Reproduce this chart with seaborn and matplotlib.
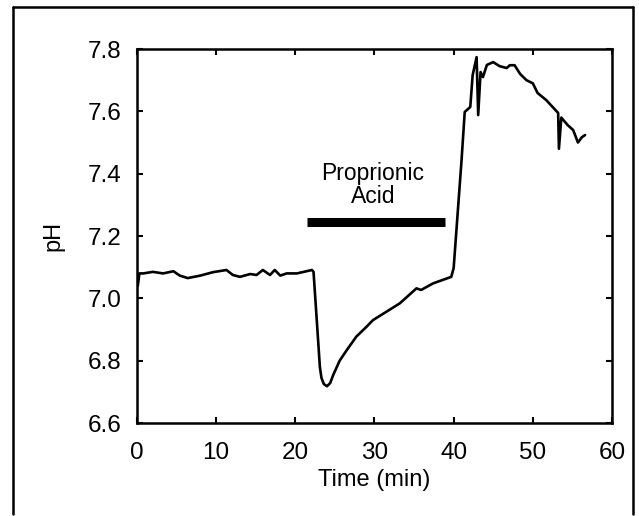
import matplotlib
matplotlib.use("Agg")
import matplotlib.pyplot as plt
import numpy as np
import pandas as pd
import seaborn as sns
from matplotlib.lines import Line2D

sns.set_theme(style="ticks")
plt.rcParams["font.family"] = ["Liberation Sans", "DejaVu Sans"]
plt.rcParams["text.color"] = "black"
plt.rcParams["axes.labelcolor"] = "black"

# pH trace
time_min = [
    0.0, 0.1, 0.3, 0.8, 2.0, 3.3, 4.6, 5.4, 6.4, 8.0, 9.6, 11.3, 12.1, 13.0,
    14.3, 15.1, 15.9, 16.8, 17.4, 18.1, 18.9, 20.2, 22.1, 22.3, 22.9, 23.1,
    23.3, 23.6, 24.0, 24.4, 24.8, 25.6, 26.5, 27.7, 29.0, 29.8, 31.5, 33.2,
    35.3, 35.9, 37.4, 39.7, 40.0, 41.0, 41.4, 42.1, 42.4, 42.9, 43.1, 43.4,
    43.7, 44.2, 45.0, 45.8, 46.7, 47.1, 47.7, 48.4, 49.2, 50.0, 50.6, 51.7,
    52.5, 53.2, 53.3, 53.6, 54.4, 55.1, 55.7, 56.2, 56.6,
]
ph = [
    7.06, 7.04, 7.08, 7.08, 7.085, 7.08, 7.087, 7.073, 7.065, 7.073, 7.084,
    7.091, 7.075, 7.069, 7.078, 7.075, 7.091, 7.075, 7.091, 7.073, 7.08, 7.08,
    7.091, 7.085, 6.857, 6.78, 6.745, 6.725, 6.718, 6.728, 6.755, 6.80, 6.834,
    6.877, 6.909, 6.93, 6.957, 6.984, 7.032, 7.027, 7.048, 7.069, 7.097,
    7.444, 7.598, 7.614, 7.716, 7.774, 7.588, 7.726, 7.71, 7.749, 7.758,
    7.745, 7.739, 7.748, 7.748, 7.72, 7.70, 7.69, 7.659, 7.636, 7.614, 7.595,
    7.48, 7.58, 7.556, 7.54, 7.50, 7.517, 7.524,
]

# acid application bar
acid_start, acid_end, acid_level = 21.5, 38.9, 7.245
acid_label = "Proprionic\nAcid"

df = pd.DataFrame({"t": time_min, "ph": ph})

fig = plt.figure(figsize=(6.39, 5.16), dpi=100)
ax = fig.add_axes([0.2144, 0.1802, 0.7433, 0.7248])

sns.lineplot(df, x="t", y="ph", color="black", linewidth=1.9,
             estimator=None, sort=False, ax=ax)
ax.plot([acid_start, acid_end], [acid_level, acid_level],
        color="black", linewidth=6.5, solid_capstyle="butt")
ax.text(29.8, 7.365, acid_label, ha="center", va="center",
        fontsize=16.5, linespacing=1.0, color="black")

ax.set_xlim(0, 60)
ax.set_ylim(6.6, 7.8)
ax.set_xticks([0, 10, 20, 30, 40, 50, 60])
ax.set_yticks([6.6, 6.8, 7.0, 7.2, 7.4, 7.6, 7.8])
ax.set_yticklabels(["6.6", "6.8", "7.0", "7.2", "7.4", "7.6", "7.8"])
ax.tick_params(direction="in", length=4, width=1.5, top=True, right=True,
               labelsize=17.5, pad=11, colors="black")
ax.tick_params(axis="x", pad=14)
for s in ax.spines.values():
    s.set_linewidth(1.8)
    s.set_color("black")
ax.set_xlabel("Time (min)", fontsize=17, labelpad=3)
ax.set_ylabel("pH", fontsize=17, labelpad=17)

# outer frame around the whole figure
for xs, ys in [([0.020, 0.020], [0.004, 0.986]),
               ([0.020, 0.991], [0.986, 0.986]),
               ([0.991, 0.991], [0.986, 0.004])]:
    fig.add_artist(Line2D(xs, ys, color="black", linewidth=1.8,
                          transform=fig.transFigure))

fig.savefig("out.png", dpi=100)
